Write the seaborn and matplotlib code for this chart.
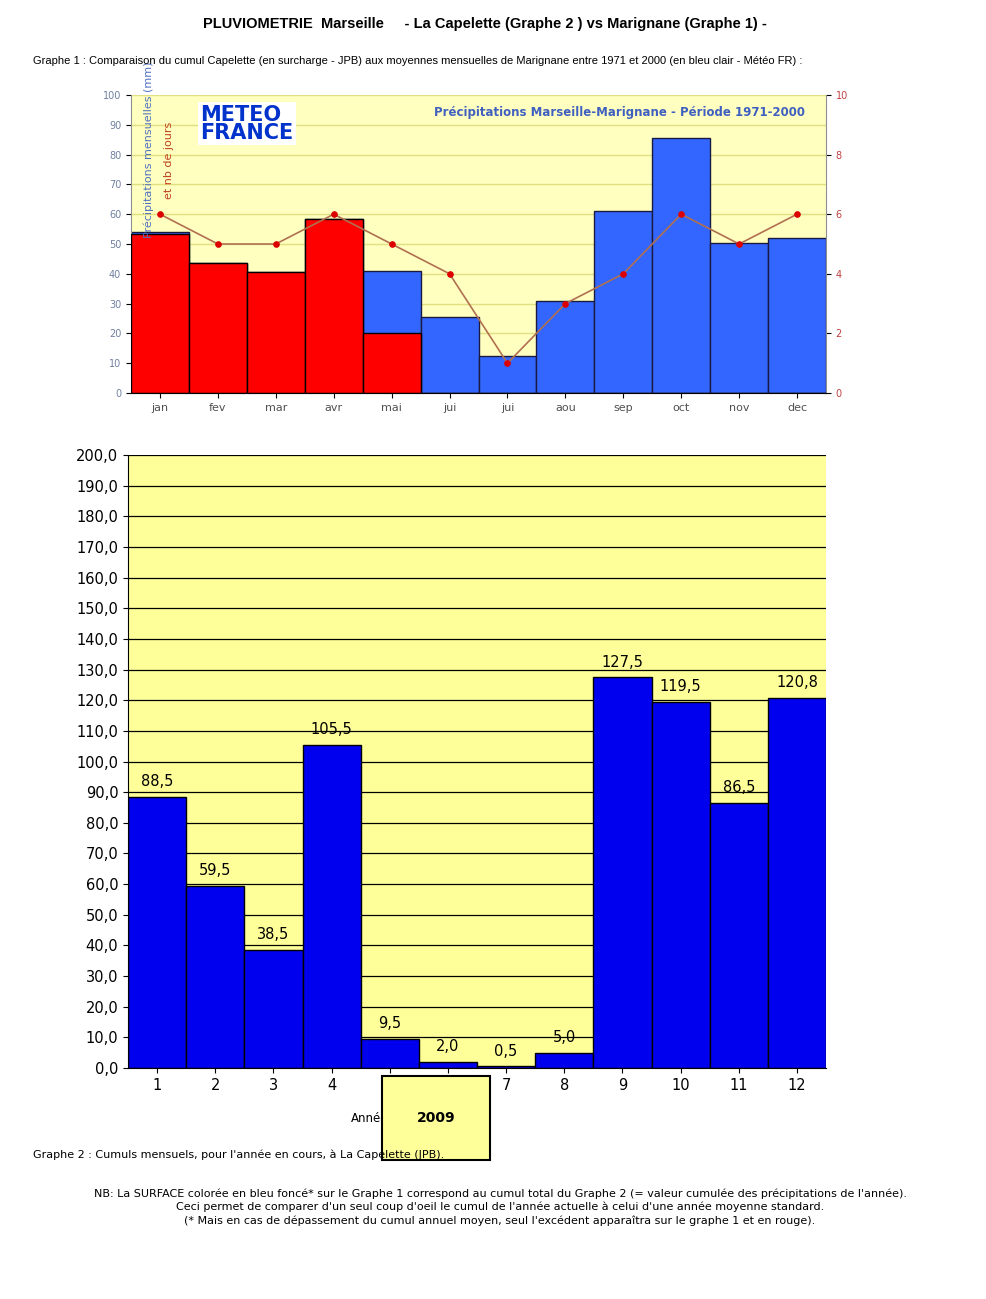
import matplotlib
matplotlib.use("Agg")
import matplotlib.pyplot as plt
import seaborn as sns
import pandas as pd
import numpy as np

mois = ["jan","fev","mar","avr","mai","jui","jui","aou","sep","oct","nov","dec"]
normales = [54, 43.5, 40.5, 58.5, 41, 25.5, 12.5, 31, 61, 85.5, 50.5, 52]
surcharge = [53.5, 43.5, 40.5, 58.5, 20, 0, 0, 0, 0, 0, 0, 0]
jours = [6, 5, 5, 6, 5, 4, 1, 3, 4, 6, 5, 6]
mois_num = [str(i) for i in range(1, 13)]
cumuls = [88.5, 59.5, 38.5, 105.5, 9.5, 2.0, 0.5, 5.0, 127.5, 119.5, 86.5, 120.8]

W, H = 986, 1299
fig = plt.figure(figsize=(W/100, H/100), dpi=100)
fig.patch.set_facecolor("white")
def ax_px(l, t, r, b):
    return fig.add_axes([l/W, 1-b/H, (r-l)/W, (b-t)/H])

fig.text(485/W, 1-24/H, "PLUVIOMETRIE  Marseille     - La Capelette (Graphe 2 ) vs Marignane (Graphe 1) -",
         ha="center", va="center", fontsize=10.5, fontweight="bold", family="Liberation Sans")
fig.text(33/W, 1-61/H, "Graphe 1 : Comparaison du cumul Capelette (en surcharge - JPB) aux moyennes mensuelles de Marignane entre 1971 et 2000 (en bleu clair - Météo FR) :",
         ha="left", va="center", fontsize=8, family="Liberation Sans")

# Top chart
ax1 = ax_px(131, 95, 826, 393)
ax1.set_facecolor("#ffffc0")
df1 = pd.DataFrame({"m": range(12), "n": normales, "s": surcharge})
sns.barplot(data=df1, x="m", y="n", color="#3366ff", saturation=1, width=1.0,
            edgecolor="#1a1a40", linewidth=1, ax=ax1, zorder=2)
sns.barplot(data=df1, x="m", y="s", color="#ff0000", saturation=1, width=1.0,
            edgecolor="black", linewidth=1, ax=ax1, zorder=3)
for i in range(5):
    pass
ax1.set_ylim(0, 100)
ax1.set_xlim(-0.5, 11.5)
ax1.set_yticks(range(0, 101, 10))
ax1.set_yticklabels([str(v) for v in range(0, 101, 10)], fontsize=7, color="#7080a0")
ax1.set_xticks(range(12))
ax1.set_xticklabels(mois, fontsize=8, color="#505050")
ax1.grid(axis="y", color="#e0e080", lw=1, zorder=0)
ax1.set_axisbelow(True)
ax1.set_xlabel(""); ax1.set_ylabel("")
for s in ["top", "right"]:
    ax1.spines[s].set_visible(False)
ax1.spines["left"].set_color("#909090")
ax1.spines["bottom"].set_color("#909090")
ax1b = ax1.twinx()
sns.lineplot(x=list(range(12)), y=jours, ax=ax1b, color="#b07050", lw=1.2,
             marker="o", markersize=4, markerfacecolor="#dd0000", markeredgecolor="#dd0000", zorder=5)
ax1b.set_ylim(0, 10)
ax1b.set_yticks(range(0, 11, 2))
ax1b.set_yticklabels([str(v) for v in range(0, 11, 2)], fontsize=7, color="#c04040")
for s in ["top", "left"]:
    ax1b.spines[s].set_visible(False)
ax1b.spines["right"].set_color("#909090")
ax1.text(0.025, 0.52, "Précipitations mensuelles (mm)", rotation=90, transform=ax1.transAxes,
         fontsize=8, color="#5070c0", ha="center", va="bottom")
ax1.text(0.055, 0.65, "et nb de jours", rotation=90, transform=ax1.transAxes,
         fontsize=8, color="#c04020", ha="center", va="bottom")
ax1.text(0.1, 0.84, "METEO\nFRANCE", transform=ax1.transAxes, fontsize=15, fontweight="bold",
         color="#0033cc", va="bottom", ha="left", linespacing=0.85,
         bbox=dict(facecolor="white", edgecolor="none", pad=2))
ax1.text(0.97, 0.94, "Précipitations Marseille-Marignane - Période 1971-2000", transform=ax1.transAxes,
         fontsize=8.5, fontweight="bold", color="#4060c0", ha="right", va="center")

# Bottom chart
ax2 = ax_px(128, 455, 826, 1068)
ax2.set_facecolor("#ffff99")
df2 = pd.DataFrame({"m": mois_num, "c": cumuls})
sns.barplot(data=df2, x="m", y="c", color="#0000ee", saturation=1, width=1.0,
            edgecolor="black", linewidth=1, ax=ax2, zorder=2)
ax2.set_ylim(0, 200)
ax2.set_xlim(-0.5, 11.5)
ax2.set_yticks(np.arange(0, 201, 10))
ax2.set_yticklabels([f"{v:.1f}".replace(".", ",") for v in range(0, 201, 10)], fontsize=10.5)
ax2.tick_params(axis="x", labelsize=10.5)
ax2.grid(axis="y", color="black", lw=0.9, zorder=0)
ax2.set_axisbelow(True)
ax2.set_xlabel(""); ax2.set_ylabel("")
for s in ["top", "right"]:
    ax2.spines[s].set_visible(False)
for i, v in enumerate(cumuls):
    ax2.text(i, v + 2.5, f"{v:.1f}".replace(".", ","), ha="center", va="bottom", fontsize=10.5, zorder=4)

fig.text(372/W, 1-1118/H, "Année:", ha="center", va="center", fontsize=8.5)
fig.text(436/W, 1-1118/H, "2009", ha="center", va="center", fontsize=10, fontweight="bold",
         bbox=dict(facecolor="#ffff99", edgecolor="black", lw=1.5, pad=2.5, boxstyle="square"))
fig.text(33/W, 1-1155/H, "Graphe 2 : Cumuls mensuels, pour l'année en cours, à La Capelette (JPB).",
         ha="left", va="center", fontsize=8)
fig.text(500/W, 1-1207/H,
         "NB: La SURFACE colorée en bleu foncé* sur le Graphe 1 correspond au cumul total du Graphe 2 (= valeur cumulée des précipitations de l'année).\n"
         "Ceci permet de comparer d'un seul coup d'oeil le cumul de l'année actuelle à celui d'une année moyenne standard.\n"
         "(* Mais en cas de dépassement du cumul annuel moyen, seul l'excédent apparaîtra sur le graphe 1 et en rouge).",
         ha="center", va="center", fontsize=8, linespacing=1.35)

fig.savefig("out.png", dpi=100)
